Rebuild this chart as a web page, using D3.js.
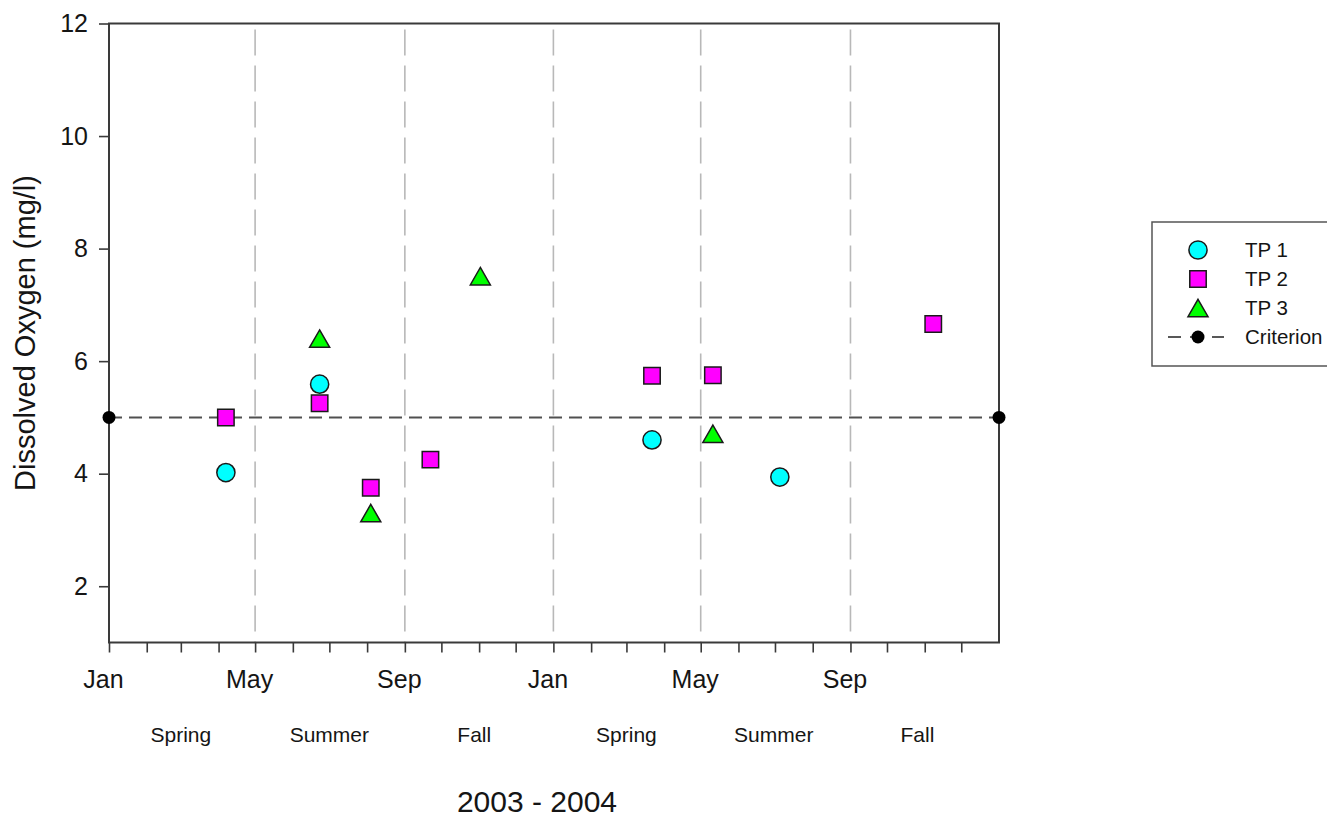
<!DOCTYPE html>
<html>
<head>
<meta charset="utf-8">
<script src="https://cdn.jsdelivr.net/npm/d3@7"></script>
<style>
  html, body { margin: 0; padding: 0; background: #fff; }
  svg { display: block; font-family: "Liberation Sans", Arial, sans-serif; }
</style>
</head>
<body>
<svg id="chart" width="1327" height="817"></svg>
<script>
// ---------------- data ----------------
const tp1Dates  = ["2003-04-07", "2003-06-23", "2004-03-22", "2004-07-05"];
const tp1Values = [4.02, 5.59, 4.60, 3.94];

const tp2Dates  = ["2003-04-07", "2003-06-23", "2003-08-04", "2003-09-22", "2004-03-22", "2004-05-11", "2004-11-08"];
const tp2Values = [5.00, 5.25, 3.75, 4.25, 5.74, 5.75, 6.66];

const tp3Dates  = ["2003-06-23", "2003-08-04", "2003-11-02", "2004-05-11"];
const tp3Values = [6.40, 3.30, 7.51, 4.71];

const criterionDates  = ["2003-01-01", "2005-01-01"];
const criterionValues = [5, 5];

const seasonDates  = ["2003-03-01", "2003-07-01", "2003-10-28", "2004-03-01", "2004-06-30", "2004-10-26"];
const seasonLabels = ["Spring", "Summer", "Fall", "Spring", "Summer", "Fall"];

const dividerDates = ["2003-05-01", "2003-09-01", "2004-01-01", "2004-05-01", "2004-09-01"];

const yTicks = [2, 4, 6, 8, 10, 12];
const labeledMonths = ["Jan", "May", "Sep"];

const seriesNames = ["TP 1", "TP 2", "TP 3", "Criterion"];
const xTitle = "2003 - 2004";
const yTitle = "Dissolved Oxygen (mg/l)";

// ---------------- layout ----------------
const parse = d3.utcParse("%Y-%m-%d");
const pLeft = 109, pRight = 999, pTop = 23.5, pBottom = 642.5;

const svg = d3.select("#chart");

const x = d3.scaleUtc()
  .domain([parse("2003-01-01"), parse("2005-01-01")])
  .range([pLeft, pRight]);
const y = d3.scaleLinear().domain([1, 12]).range([pBottom, pTop]);

const frameColor = "#3a3a3a";
const textColor = "#151515";

// vertical season dividers
svg.append("g").selectAll("line")
  .data(dividerDates)
  .join("line")
  .attr("x1", d => x(parse(d))).attr("x2", d => x(parse(d)))
  .attr("y1", pTop + 6).attr("y2", pBottom)
  .attr("stroke", "#b8b8b8")
  .attr("stroke-width", 1.6)
  .attr("stroke-dasharray", "26,10");

// criterion dashed line
const crit = criterionDates.map((d, i) => ({ date: parse(d), value: criterionValues[i] }));
svg.append("path")
  .datum(crit)
  .attr("d", d3.line().x(d => x(d.date)).y(d => y(d.value)))
  .attr("fill", "none")
  .attr("stroke", "#505050")
  .attr("stroke-width", 2)
  .attr("stroke-dasharray", "13,7");

// frame
svg.append("rect")
  .attr("x", pLeft).attr("y", pTop)
  .attr("width", pRight - pLeft).attr("height", pBottom - pTop)
  .attr("fill", "none")
  .attr("stroke", frameColor)
  .attr("stroke-width", 2);

// x axis
const xAxis = d3.axisBottom(x)
  .tickValues(d3.utcMonth.range(parse("2003-01-01"), parse("2005-01-01")))
  .tickSize(10)
  .tickSizeOuter(0)
  .tickPadding(10)
  .tickFormat(d => {
    const m = d3.utcFormat("%b")(d);
    return labeledMonths.includes(m) ? m : "";
  });
const gx = svg.append("g").attr("transform", `translate(0,${pBottom})`).call(xAxis);
gx.select(".domain").remove();
gx.selectAll(".tick line").attr("stroke", frameColor).attr("stroke-width", 1.6);
gx.selectAll(".tick text")
  .attr("font-size", 25)
  .attr("dx", -6)
  .attr("dy", 0)
  .attr("y", 688 - pBottom)
  .attr("fill", textColor)
  .attr("font-family", "Liberation Sans, Arial, sans-serif");

// y axis
const yAxis = d3.axisLeft(y).tickValues(yTicks).tickSize(10).tickPadding(11).tickSizeOuter(0);
const gy = svg.append("g").attr("transform", `translate(${pLeft},0)`).call(yAxis);
gy.select(".domain").remove();
gy.selectAll(".tick line").attr("stroke", frameColor).attr("stroke-width", 1.6);
gy.selectAll(".tick text")
  .attr("font-size", 25)
  .attr("fill", textColor)
  .attr("font-family", "Liberation Sans, Arial, sans-serif");

// season labels
svg.append("g").selectAll("text")
  .data(seasonDates)
  .join("text")
  .attr("x", d => x(parse(d)))
  .attr("y", 742)
  .attr("text-anchor", "middle")
  .attr("font-size", 21)
  .attr("fill", textColor)
  .text((d, i) => seasonLabels[i]);

// axis titles
svg.append("text")
  .attr("x", 537).attr("y", 812)
  .attr("text-anchor", "middle")
  .attr("font-size", 30)
  .attr("fill", textColor)
  .text(xTitle);

svg.append("text")
  .attr("transform", `translate(35,${(pTop + pBottom) / 2}) rotate(-90)`)
  .attr("text-anchor", "middle")
  .attr("font-size", 29)
  .attr("fill", textColor)
  .text(yTitle);

// criterion end dots
svg.append("g").selectAll("circle")
  .data(crit)
  .join("circle")
  .attr("cx", d => x(d.date)).attr("cy", d => y(d.value))
  .attr("r", 6.5)
  .attr("fill", "#000");

// symbol shapes
const triangleCentered = {
  draw(ctx, size) {
    const w = Math.sqrt(size * 2 / 0.87);
    const h = w * 0.87;
    ctx.moveTo(0, -h / 2);
    ctx.lineTo(w / 2, h / 2);
    ctx.lineTo(-w / 2, h / 2);
    ctx.closePath();
  }
};

const series = [
  { name: seriesNames[0], dates: tp1Dates, values: tp1Values, type: d3.symbolCircle, size: 260, fill: "#00ffff" },
  { name: seriesNames[1], dates: tp2Dates, values: tp2Values, type: d3.symbolSquare, size: 270, fill: "#ff00ff" },
  { name: seriesNames[2], dates: tp3Dates, values: tp3Values, type: triangleCentered, size: 175, fill: "#00ff00" }
];

series.forEach(s => {
  const pts = s.dates.map((d, i) => ({ date: parse(d), value: s.values[i] }));
  svg.append("g").selectAll("path")
    .data(pts)
    .join("path")
    .attr("transform", d => `translate(${x(d.date)},${y(d.value)})`)
    .attr("d", d3.symbol().type(s.type).size(s.size))
    .attr("fill", s.fill)
    .attr("stroke", "#1a1a1a")
    .attr("stroke-width", 1.5);
});

// legend
const lg = svg.append("g");
lg.append("rect")
  .attr("x", 1152).attr("y", 222)
  .attr("width", 220).attr("height", 144)
  .attr("fill", "#fff")
  .attr("stroke", "#555")
  .attr("stroke-width", 1.5);

const rowY = [250, 279, 308, 337];
series.forEach((s, i) => {
  lg.append("path")
    .attr("transform", `translate(1198,${rowY[i]})`)
    .attr("d", d3.symbol().type(s.type).size(s.size))
    .attr("fill", s.fill)
    .attr("stroke", "#1a1a1a")
    .attr("stroke-width", 1.5);
});
lg.append("line")
  .attr("x1", 1168).attr("x2", 1224)
  .attr("y1", rowY[3]).attr("y2", rowY[3])
  .attr("stroke", "#222").attr("stroke-width", 1.6)
  .attr("stroke-dasharray", "13,9");
lg.append("circle")
  .attr("cx", 1198).attr("cy", rowY[3]).attr("r", 6.5).attr("fill", "#000");

lg.selectAll("text.lbl")
  .data(seriesNames)
  .join("text")
  .attr("class", "lbl")
  .attr("x", 1245)
  .attr("y", (d, i) => rowY[i])
  .attr("dy", "0.35em")
  .attr("font-size", 20.5)
  .attr("fill", textColor)
  .text(d => d);
</script>
</body>
</html>
